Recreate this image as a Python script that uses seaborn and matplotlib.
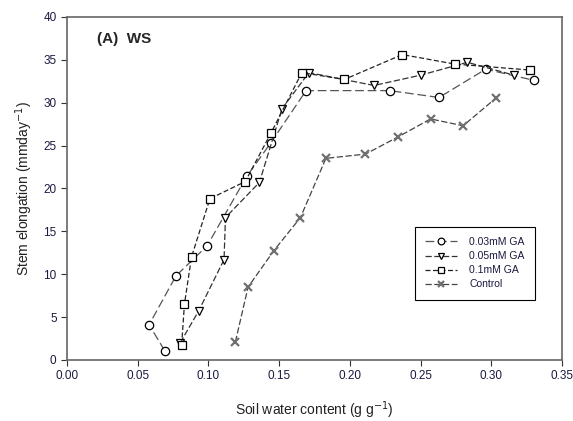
import matplotlib
matplotlib.use("Agg")
import matplotlib.pyplot as plt
import seaborn as sns

# values (in drawing order of each curve)
ga003_x = [0.069, 0.058, 0.077, 0.099, 0.127, 0.144, 0.169, 0.228, 0.263, 0.296, 0.330]
ga003_y = [1.1, 4.1, 9.8, 13.3, 21.4, 25.3, 31.4, 31.4, 30.6, 33.9, 32.6]

ga005_x = [0.080, 0.093, 0.111, 0.112, 0.136, 0.152, 0.171, 0.217, 0.250, 0.283, 0.316]
ga005_y = [2.0, 5.7, 11.7, 16.6, 20.7, 29.3, 33.5, 32.0, 33.2, 34.7, 33.2]

ga01_x = [0.081, 0.083, 0.088, 0.101, 0.126, 0.144, 0.166, 0.196, 0.237, 0.274, 0.327]
ga01_y = [1.75, 6.5, 12.0, 18.8, 20.8, 26.4, 33.5, 32.7, 35.6, 34.5, 33.8]

ctrl_x = [0.119, 0.128, 0.146, 0.165, 0.183, 0.211, 0.234, 0.257, 0.280, 0.303]
ctrl_y = [2.1, 8.5, 12.7, 16.6, 23.5, 24.0, 26.0, 28.1, 27.3, 30.5]

labels = ["0.03mM GA", "0.05mM GA", "0.1mM GA", "Control"]
x_ticks = [0.00, 0.05, 0.10, 0.15, 0.20, 0.25, 0.30, 0.35]
y_ticks = [0, 5, 10, 15, 20, 25, 30, 35, 40]

sns.set_style("ticks")
plt.rcParams["font.family"] = ["Liberation Sans", "DejaVu Sans"]

fig = plt.figure(figsize=(5.73, 4.21), dpi=100)
ax = fig.add_axes([0.117, 0.145, 0.864, 0.815])

styles = [
    (ga003_x, ga003_y, "o", "black", "#555555", (0, (7, 3))),
    (ga005_x, ga005_y, "v", "black", "#333333", (0, (5, 2))),
    (ga01_x, ga01_y, "s", "black", "#222222", (0, (4, 2))),
    (ctrl_x, ctrl_y, "x", "#707070", "#444444", (0, (5, 2))),
]

for (xs, ys, mk, mcol, lcol, ls), lab in zip(styles, labels):
    if mk == "x":
        sns.lineplot(x=xs, y=ys, sort=False, estimator=None, ax=ax, label=lab,
                     color=lcol, linewidth=0.9, linestyle=ls, marker=mk,
                     markersize=6, markeredgewidth=1.6, markeredgecolor=mcol)
    else:
        sns.lineplot(x=xs, y=ys, sort=False, estimator=None, ax=ax, label=lab,
                     color=lcol, linewidth=0.9, linestyle=ls, marker=mk,
                     markersize=6, markerfacecolor="white",
                     markeredgecolor=mcol, markeredgewidth=0.9)

ax.set_xlim(0, 0.35)
ax.set_ylim(0, 40)
ax.set_xticks(x_ticks)
ax.set_xticklabels([f"{t:.2f}" for t in x_ticks])
ax.set_yticks(y_ticks)
ax.tick_params(labelsize=8.5, labelcolor="#1a1a40", direction="out", length=4,
               width=0.8, color="#333333")

for s in ax.spines.values():
    s.set_color("#666666")
    s.set_linewidth(1.2)

ax.set_xlabel("Soil water content (g g$^{-1}$)", fontsize=10, color="#222222", labelpad=12)
ax.set_ylabel("Stem elongation (mmday$^{-1}$)", fontsize=10, color="#222222", labelpad=6)

ax.text(0.06, 0.955, "(A)  WS", transform=ax.transAxes, fontsize=11,
        fontweight="bold", va="top", ha="left")

leg = ax.legend(loc="lower right", bbox_to_anchor=(0.945, 0.175), borderaxespad=0,
                fontsize=7.5, frameon=True, fancybox=False, edgecolor="black",
                framealpha=1, handlelength=3.0, markerscale=0.8, borderpad=1.0,
                labelspacing=0.4, handletextpad=1.2)
leg.get_frame().set_linewidth(0.8)
for t in leg.get_texts():
    t.set_color("#1a1a40")

plt.savefig("out.png", dpi=100)
